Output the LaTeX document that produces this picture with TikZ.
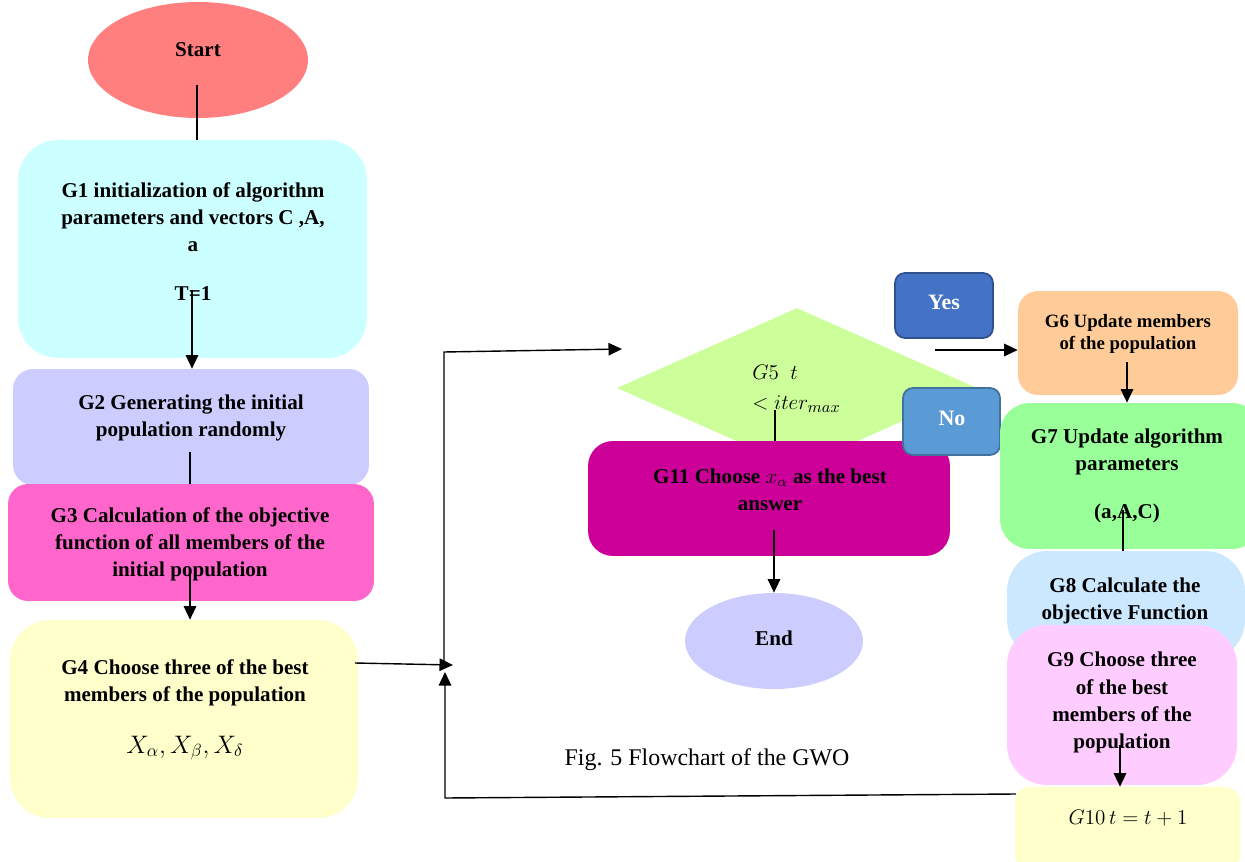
\documentclass[tikz,border=0pt]{standalone}
\usepackage{fontspec}
\setmainfont{Liberation Serif}
\usetikzlibrary{shapes.geometric,arrows.meta}
\definecolor{cstart}{HTML}{FF7F7F}
\definecolor{cgone}{HTML}{CCFFFF}
\definecolor{cgtwo}{HTML}{CCCCFF}
\definecolor{cgthree}{HTML}{FF66CC}
\definecolor{cgfour}{HTML}{FFFFCC}
\definecolor{cgfive}{HTML}{CCFF99}
\definecolor{cyes}{HTML}{4472C4}
\definecolor{cyesb}{HTML}{2F528F}
\definecolor{cno}{HTML}{5B9BD5}
\definecolor{cnob}{HTML}{41719C}
\definecolor{cgsix}{HTML}{FFCC99}
\definecolor{cgseven}{HTML}{99FF99}
\definecolor{cgeight}{HTML}{CCE8FF}
\definecolor{cgnine}{HTML}{FFCCFF}
\definecolor{cgten}{HTML}{FFFFCC}
\definecolor{cgeleven}{HTML}{CC0099}
\definecolor{cend}{HTML}{CCCCFF}
\begin{document}
\begin{tikzpicture}[x=0.02cm,y=-0.02cm,
  gbox/.style={rectangle,rounded corners=#1,inner sep=0pt,draw=none},
  oval/.style={ellipse,inner sep=0pt,draw=none},
  txt/.style={font=\bfseries\fontsize{12}{15.4}\selectfont,align=center,text=black,inner sep=0pt},
  smtxt/.style={font=\bfseries\fontsize{10.7}{13}\selectfont,align=center,text=black,inner sep=0pt},
  wtxt/.style={font=\bfseries\fontsize{12.5}{15}\selectfont,text=white,inner sep=0pt},
  mtxt/.style={font=\fontsize{13}{17}\selectfont,align=left,text=black,inner sep=0pt},
  ln/.style={line width=0.8pt,draw=black},
  arr/.style={line width=0.8pt,draw=black,-{Triangle[length=0.27cm,width=0.25cm]}}]
\fill[white] (0,0) rectangle (1245,862);
\clip (0,0) rectangle (1245,862);
% left column
\node[oval,fill=cstart,minimum width=4.4cm,minimum height=2.32cm] (Start) at (198,60) {};
\node[gbox=0.8cm,fill=cgone,minimum width=6.98cm,minimum height=4.36cm] (G1) at (192.5,249) {};
\node[gbox=0.4cm,fill=cgtwo,minimum width=7.12cm,minimum height=2.32cm] (G2) at (191,427) {};
\node[gbox=0.4cm,fill=cgthree,minimum width=7.32cm,minimum height=2.34cm] (G3) at (191,542.5) {};
\node[gbox=0.8cm,fill=cgfour,minimum width=6.96cm,minimum height=3.96cm] (G4) at (184,719) {};
% middle
\node[diamond,fill=cgfive,inner sep=0pt,minimum width=7.2cm,minimum height=3.2cm] (G5) at (797,388) {};
\node[gbox=0.5cm,fill=cgeleven,minimum width=7.24cm,minimum height=2.3cm] (G11) at (769,498.5) {};
\node[oval,fill=cend,minimum width=3.56cm,minimum height=1.92cm] (End) at (774,641) {};
\node[gbox=0.2cm,fill=cyes,draw=cyesb,line width=1pt,minimum width=1.96cm,minimum height=1.3cm] (Yes) at (944,305.5) {};
\node[gbox=0.2cm,fill=cno,draw=cnob,line width=1pt,minimum width=1.94cm,minimum height=1.34cm] (No) at (951.5,421.5) {};
% right column
\node[gbox=0.4cm,fill=cgsix,minimum width=4.4cm,minimum height=2.08cm] (G6) at (1128,343) {};
\node[gbox=0.6cm,fill=cgseven,minimum width=5.24cm,minimum height=2.92cm] (G7) at (1131,476) {};
\node[gbox=0.8cm,fill=cgeight,minimum width=4.76cm,minimum height=2.18cm] (G8) at (1126,605.5) {};
\node[gbox=0.8cm,fill=cgnine,minimum width=4.6cm,minimum height=3.2cm] (G9) at (1122,705) {};
\node[gbox=0.3cm,fill=cgten,minimum width=4.5cm,minimum height=1.66cm] (G10) at (1127.5,828.5) {};
% texts
\node[txt] (tStart) at (198,50) {Start};
\node[txt] (tG1) at (193,241.5) {G1 initialization of algorithm\\parameters and vectors C ,A,\\a\\[12.5pt]T=1};
\node[txt] (tG2) at (191,417.5) {G2 Generating the initial\\population randomly};
\node[txt] (tG3) at (190,544) {G3 Calculation of the objective\\function of all members of the\\initial population};
\node[txt] (tG4) at (185,682.5) {G4 Choose three of the best\\members of the population};
\node[mtxt,font=\fontsize{14}{17}\selectfont] (tG4m) at (185,748) {$X_\alpha, X_\beta, X_\delta$};
\node[mtxt,anchor=west] (tG5) at (752,389) {$G5\ \ t$\\$<iter_{max}$};
\node[txt] (tG11) at (770,489.5) {G11 Choose $x_\alpha$ as the best\\answer};
\node[txt] (tEnd) at (774,638) {End};
\node[wtxt] (tYes) at (944,302) {Yes};
\node[wtxt] (tNo) at (952,418) {No};
\node[smtxt] (tG6) at (1128,334) {G6 Update members\\of the population};
\node[txt] (tG7) at (1127,476) {G7 Update algorithm\\parameters\\[12pt](a,A,C)};
\node[txt] (tG8) at (1125,600.5) {G8 Calculate the\\objective Function};
\node[txt] (tG9) at (1122,702.5) {G9 Choose three\\of the best\\members of the\\population};
\node[mtxt] (tG10) at (1128,818) {$G10\,t=t+1$};
\node[font=\fontsize{13.6}{16}\selectfont,inner sep=0pt] (cap) at (707,760) {Fig. 5 Flowchart of the GWO};
% connectors
\coordinate (a1) at (197,85);
\draw[ln] (a1) -- (a1 |- G1.north);
\coordinate (a2) at (192,290);
\draw[arr] (a2) -- (a2 |- G2.north);
\coordinate (a3) at (190,452);
\draw[ln] (a3) -- (a3 |- G3.north);
\coordinate (a4) at (190,573);
\draw[arr] (a4) -- (a4 |- G4.north);
\coordinate (a5) at (355,663);
\coordinate (J) at (453,665);
\draw[arr] (a5) -- (J);
\coordinate (L1) at (444,664);
\coordinate (L2) at (444,352);
\coordinate (D1) at (622,349);
\draw[arr] (L1) -- (L2) -- (D1);
\coordinate (F0) at (1016,794);
\coordinate (F1) at (445,798);
\coordinate (F2) at (445,672);
\draw[arr] (F0) -- (F1) -- (F2);
\coordinate (d1) at (775,410);
\draw[ln] (d1) -- (d1 |- G11.north);
\coordinate (y1) at (935,350);
\draw[arr] (y1) -- (y1 -| G6.west);
\coordinate (u6) at (1127,362);
\draw[arr] (u6) -- (u6 |- G7.north);
\coordinate (u8) at (1123,510);
\draw[ln] (u8) -- (u8 |- G8.north);
\coordinate (u9) at (1120,745);
\draw[arr] (u9) -- (u9 |- G10.north);
\coordinate (u11) at (774,530);
\draw[arr] (u11) -- (u11 |- End.north);
\end{tikzpicture}
\end{document}
